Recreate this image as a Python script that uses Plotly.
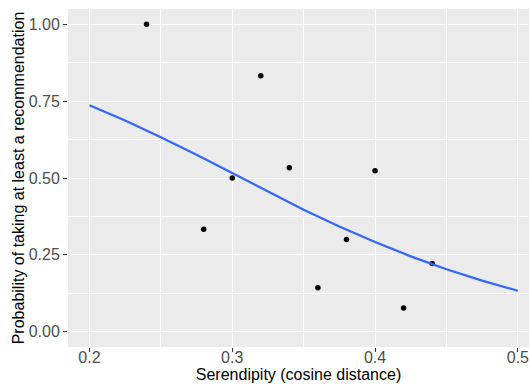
import plotly.graph_objects as go

# Observed points
serendipity = [0.24, 0.28, 0.30, 0.32, 0.34, 0.36, 0.38, 0.40, 0.42, 0.44]
prob_taking = [1.00, 0.333, 0.50, 0.833, 0.533, 0.143, 0.30, 0.524, 0.077, 0.222]

# Fitted smooth curve
curve_x = [0.200, 0.225, 0.250, 0.275, 0.300, 0.325, 0.350, 0.375, 0.400, 0.425, 0.450, 0.475, 0.500]
curve_y = [0.737, 0.687, 0.633, 0.576, 0.516, 0.456, 0.397, 0.342, 0.292, 0.245, 0.203, 0.166, 0.133]

x_ticks = [0.2, 0.3, 0.4, 0.5]
y_ticks = [0.0, 0.25, 0.5, 0.75, 1.0]
y_tick_labels = ["0.00", "0.25", "0.50", "0.75", "1.00"]

fig = go.Figure()
fig.add_trace(go.Scatter(
    x=serendipity, y=prob_taking, mode="markers",
    marker=dict(color="black", size=5.5), showlegend=False, hoverinfo="skip"))
fig.add_trace(go.Scatter(
    x=curve_x, y=curve_y, mode="lines", line=dict(color="#3366FF", width=2.2, shape="linear"),
    showlegend=False, hoverinfo="skip"))

font_family = "Liberation Sans, Arial, sans-serif"
fig.update_layout(
    width=529, height=386,
    margin=dict(l=68, r=0, t=9, b=39),
    paper_bgcolor="white", plot_bgcolor="#EBEBEB",
    font=dict(family=font_family, size=16, color="black"),
)
fig.update_xaxes(
    range=[0.185, 0.5078], tickvals=x_ticks, ticktext=[str(v) for v in x_ticks],
    showgrid=True, gridcolor="white", gridwidth=1.1, zeroline=False,
    minor=dict(tickvals=[0.25, 0.35, 0.45], showgrid=True, gridcolor="white", gridwidth=0.55, ticks=""),
    ticks="outside", ticklen=4, tickcolor="#333333", tickwidth=1,
    tickfont=dict(size=16, color="#4D4D4D"),
    ticklabelstandoff=-8, ticklabeloverflow="allow",
    title=dict(text="Serendipity (cosine distance)", font=dict(size=16, color="black"), standoff=0),
    showline=False, automargin=False,
)
fig.update_yaxes(
    range=[-0.05, 1.05], tickvals=y_ticks, ticktext=y_tick_labels,
    showgrid=True, gridcolor="white", gridwidth=1.1, zeroline=False,
    minor=dict(tickvals=[0.125, 0.375, 0.625, 0.875], showgrid=True, gridcolor="white", gridwidth=0.55, ticks=""),
    ticks="outside", ticklen=4, tickcolor="#333333", tickwidth=1,
    tickfont=dict(size=16, color="#4D4D4D"),
    title=dict(text="Probability of taking at least a recommendation", font=dict(size=16, color="black"), standoff=0),
    showline=False, automargin=False,
)

fig.write_html("out.html")
